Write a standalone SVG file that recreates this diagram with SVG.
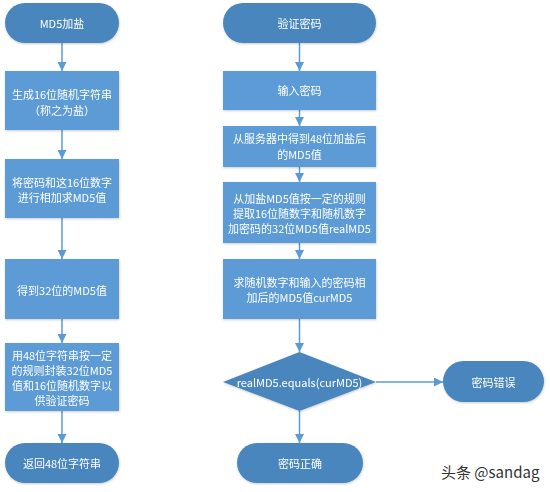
<svg xmlns="http://www.w3.org/2000/svg" width="550" height="492" viewBox="0 0 550 492">
<style>
.box{fill:#5b9bd5;}
.term{fill:#4a86be;}
.t{font-family:"Microsoft YaHei","Noto Sans CJK SC","Noto Sans",sans-serif;font-size:11px;fill:#ffffff;text-anchor:middle;dominant-baseline:central;}
.c{stroke:#5b9bd5;stroke-width:1.5;fill:none;marker-end:url(#ah);}
.wm{font-family:"Noto Sans CJK SC","Noto Sans",sans-serif;font-size:15px;fill:#333333;}
</style>
<defs>
<marker id="ah" markerWidth="9" markerHeight="9" refX="9" refY="4.5" orient="auto" markerUnits="userSpaceOnUse">
<path d="M0,0 L9,4.5 L0,9 Z" fill="#5b9bd5"/>
</marker>
<filter id="sh" x="-10%" y="-10%" width="120%" height="130%">
<feDropShadow dx="0.5" dy="1" stdDeviation="0.8" flood-color="#000" flood-opacity="0.2"/>
</filter>
</defs>
<rect width="550" height="492" fill="#ffffff"/>
<g id="connectors">
<line class="c" x1="62" y1="43" x2="62" y2="71"/>
<line class="c" x1="62" y1="130" x2="62" y2="159"/>
<line class="c" x1="62" y1="218" x2="62" y2="259"/>
<line class="c" x1="62" y1="319" x2="62" y2="343"/>
<line class="c" x1="62" y1="411" x2="62" y2="443"/>
<line class="c" x1="299.5" y1="43" x2="299.5" y2="71"/>
<line class="c" x1="299.5" y1="110" x2="299.5" y2="126"/>
<line class="c" x1="299.5" y1="167" x2="299.5" y2="182"/>
<line class="c" x1="299.5" y1="243" x2="299.5" y2="259"/>
<line class="c" x1="299.5" y1="319" x2="299.5" y2="352"/>
<line class="c" x1="299.5" y1="411" x2="299.5" y2="443"/>
<line class="c" x1="376" y1="382" x2="443" y2="382"/>
</g>
<g id="n_md5salt" filter="url(#sh)">
<rect class="term" x="5" y="3" width="114" height="40" rx="20"/>
<text class="t" x="62" y="23">MD5加盐</text>
</g>
<g id="n_gen16" filter="url(#sh)">
<rect class="box" x="5" y="71" width="114" height="59"/>
<text class="t" x="62" y="94">生成16位随机字符串</text>
<text class="t" x="62" y="110">（称之为盐）</text>
</g>
<g id="n_addmd5" filter="url(#sh)">
<rect class="box" x="5" y="159" width="114" height="59"/>
<text class="t" x="62" y="182">将密码和这16位数字</text>
<text class="t" x="62" y="197">进行相加求MD5值</text>
</g>
<g id="n_get32" filter="url(#sh)">
<rect class="box" x="5" y="259" width="114" height="60"/>
<text class="t" x="62" y="290">得到32位的MD5值</text>
</g>
<g id="n_wrap48" filter="url(#sh)">
<rect class="box" x="5" y="343" width="114" height="68"/>
<text class="t" x="62" y="355">用48位字符串按一定</text>
<text class="t" x="62" y="370">的规则封装32位MD5</text>
<text class="t" x="62" y="385">值和16位随机数字以</text>
<text class="t" x="62" y="400">供验证密码</text>
</g>
<g id="n_return48" filter="url(#sh)">
<rect class="term" x="5" y="443" width="114" height="40" rx="20"/>
<text class="t" x="62" y="463">返回48位字符串</text>
</g>
<g id="n_verify" filter="url(#sh)">
<rect class="term" x="223" y="3" width="153" height="40" rx="20"/>
<text class="t" x="299.5" y="23">验证密码</text>
</g>
<g id="n_input" filter="url(#sh)">
<rect class="box" x="223" y="71" width="153" height="39"/>
<text class="t" x="299.5" y="90">输入密码</text>
</g>
<g id="n_fetch" filter="url(#sh)">
<rect class="box" x="223" y="126" width="153" height="41"/>
<text class="t" x="299.5" y="138">从服务器中得到48位加盐后</text>
<text class="t" x="299.5" y="154">的MD5值</text>
</g>
<g id="n_extract" filter="url(#sh)">
<rect class="box" x="223" y="182" width="153" height="61"/>
<text class="t" x="299.5" y="198">从加盐MD5值按一定的规则</text>
<text class="t" x="299.5" y="213">提取16位随数字和随机数字</text>
<text class="t" x="299.5" y="228">加密码的32位MD5值realMD5</text>
</g>
<g id="n_cur" filter="url(#sh)">
<rect class="box" x="223" y="259" width="153" height="60"/>
<text class="t" x="299.5" y="282">求随机数字和输入的密码相</text>
<text class="t" x="299.5" y="297">加后的MD5值curMD5</text>
</g>
<g id="n_equals" filter="url(#sh)">
<polygon class="term" points="299.5,352 376,382 299.5,411 223,382"/>
<text class="t" x="299.5" y="382">realMD5.equals(curMD5)</text>
</g>
<g id="n_wrong" filter="url(#sh)">
<rect class="term" x="443" y="361" width="101" height="41" rx="20.5"/>
<text class="t" x="493.5" y="382">密码错误</text>
</g>
<g id="n_right" filter="url(#sh)">
<rect class="term" x="237" y="443" width="126" height="40" rx="20"/>
<text class="t" x="300" y="463">密码正确</text>
</g>
<text class="wm" x="441" y="478">头条 @sandag</text>
</svg>
